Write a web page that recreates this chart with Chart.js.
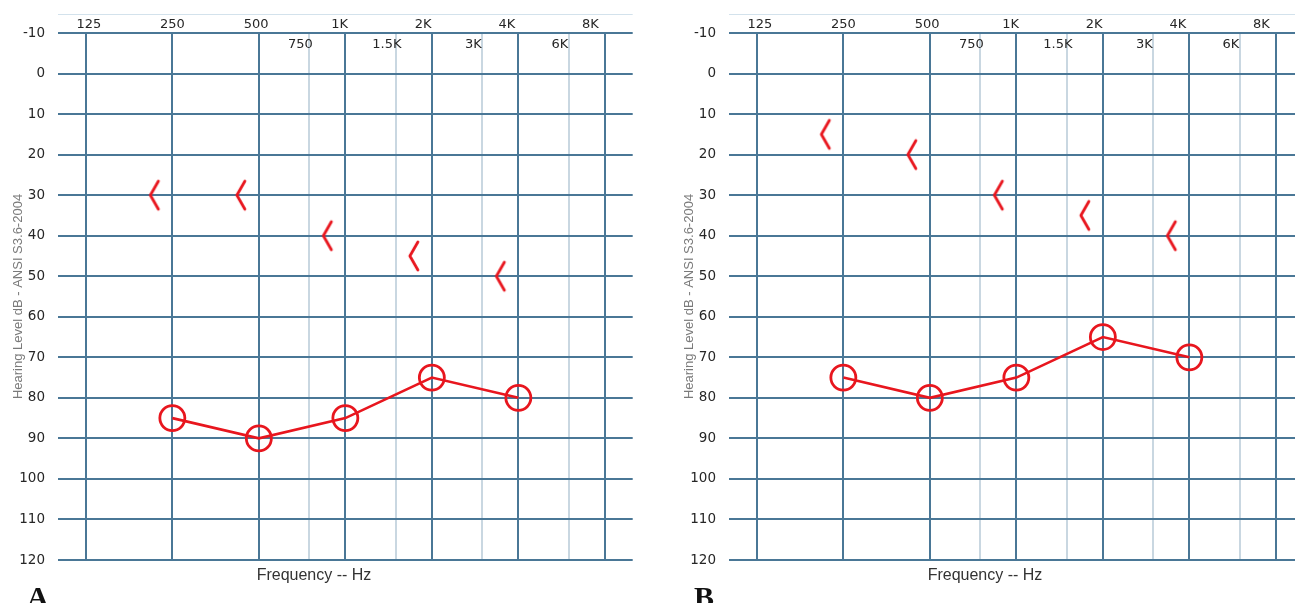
<!DOCTYPE html>
<html>
<head>
<meta charset="utf-8">
<script src="https://cdn.jsdelivr.net/npm/chart.js@4.4.1/dist/chart.umd.min.js"></script>
<style>
  html, body { margin: 0; padding: 0; background: #ffffff; overflow: hidden; width: 1295px; height: 603px; }
  .panel { position: absolute; top: 0; width: 648px; height: 603px; }
  .panel canvas { position: absolute; left: 0; top: 0; }
  .xtitle { position: absolute; top: 565px; width: 200px; margin-left: -100px; text-align: center;
            font: 16px "Liberation Sans", Arial, sans-serif; color: #333; line-height: 20px; white-space: nowrap; }
  .letter { position: absolute; top: 582px; font: bold 30px "Liberation Serif", "Times New Roman", serif;
            line-height: 30px; color: #111; }
</style>
</head>
<body>
<div class="panel" style="left:0px;">
  <canvas id="chartA" width="648" height="603"></canvas>
  <div class="xtitle" style="left:314px;">Frequency -- Hz</div>
  <div class="letter" style="left:27px;">A</div>
</div>
<div class="panel" style="left:671px;">
  <canvas id="chartB" width="648" height="603"></canvas>
  <div class="xtitle" style="left:314px;">Frequency -- Hz</div>
  <div class="letter" style="left:23px;">B</div>
</div>
<script>
// ---- data ----
const octaveFreqs  = [125, 250, 500, 1000, 2000, 4000, 8000];
const octaveLabels = ['125', '250', '500', '1K', '2K', '4K', '8K'];
const midFreqs     = [750, 1500, 3000, 6000];
const midLabels    = ['750', '1.5K', '3K', '6K'];
const testFreqs    = [250, 500, 1000, 2000, 4000];
const airA  = [85, 90, 85, 75, 80];
const boneA = [30, 30, 40, 45, 50];
const airB  = [75, 80, 75, 65, 70];
const boneB = [15, 20, 30, 35, 40];
const dbMin = -10, dbMax = 120, dbStep = 10;
const yTitle = 'Hearing Level dB - ANSI S3.6-2004';

// ---- styles ----
const RED = '#e8161e';
const DARK = '#4a7796';
const LIGHT = '#c9d7e1';
const TEXT = '#262626';
const tickFont = '13px "DejaVu Sans", Verdana, sans-serif';

// bone-conduction "<" symbol, drawn to the left of its frequency line
function makeBracket() {
  const c = document.createElement('canvas');
  c.width = 50; c.height = 34;
  const g = c.getContext('2d');
  g.strokeStyle = RED;
  g.lineWidth = 2.8;
  g.lineCap = 'round';
  g.lineJoin = 'round';
  g.beginPath();
  g.moveTo(25 - 14, 17 - 14);
  g.lineTo(25 - 22, 17);
  g.lineTo(25 - 14, 17 + 14);
  g.stroke();
  return c;
}
const bracket = makeBracket();

const allFreqs = octaveFreqs.concat(midFreqs).sort((a, b) => a - b);

const labelPlugin = {
  id: 'freqLabels',
  afterDraw(chart) {
    const { ctx, chartArea } = chart;
    const x = chart.scales.x;
    ctx.save();
    // light border line above the frequency labels
    ctx.strokeStyle = '#d3e2ec';
    ctx.lineWidth = 1;
    ctx.beginPath();
    ctx.moveTo(chartArea.left, 14.5);
    ctx.lineTo(chartArea.right, 14.5);
    ctx.stroke();
    ctx.font = tickFont;
    ctx.fillStyle = TEXT;
    ctx.textAlign = 'center';
    ctx.textBaseline = 'middle';
    octaveFreqs.forEach((f, i) => {
      ctx.fillText(octaveLabels[i], x.getPixelForValue(f) + 3 - 2.9 * i, 25);
    });
    midFreqs.forEach((f, i) => {
      ctx.fillText(midLabels[i], x.getPixelForValue(f) - 9, 45);
    });
    ctx.restore();
  }
};

function makeChart(id, air, bone) {
  return new Chart(document.getElementById(id), {
    type: 'line',
    data: {
      datasets: [
        {
          label: 'Air',
          data: testFreqs.map((f, i) => ({ x: f, y: air[i] })),
          borderColor: RED,
          borderWidth: 2.6,
          backgroundColor: 'rgba(0,0,0,0)',
          pointStyle: 'circle',
          pointRadius: 12.5,
          pointBorderWidth: 2.8,
          pointBorderColor: RED,
          pointBackgroundColor: 'rgba(0,0,0,0)',
          tension: 0,
          fill: false
        },
        {
          label: 'Bone',
          data: testFreqs.map((f, i) => ({ x: f, y: bone[i] })),
          showLine: false,
          pointStyle: bracket,
          pointRadius: 10
        }
      ]
    },
    options: {
      responsive: false,
      animation: false,
      events: [],
      layout: { padding: { left: 0, top: 0, right: 15, bottom: 43 } },
      plugins: { legend: { display: false }, tooltip: { enabled: false } },
      scales: {
        x: {
          type: 'logarithmic',
          position: 'top',
          min: 100,
          max: 10000,
          border: { display: false },
          grid: {
            drawTicks: false,
            lineWidth: 2,
            color: (ctx) => (ctx.tick && midFreqs.includes(ctx.tick.value)) ? LIGHT : DARK
          },
          ticks: { display: false, autoSkip: false },
          afterBuildTicks: (scale) => { scale.ticks = allFreqs.map(v => ({ value: v })); },
          afterFit: (scale) => { scale.height = 33; }
        },
        y: {
          type: 'linear',
          reverse: true,
          min: dbMin,
          max: dbMax,
          border: { display: false },
          grid: { drawTicks: false, lineWidth: 2, color: DARK },
          ticks: {
            stepSize: dbStep,
            padding: 13,
            color: TEXT,
            font: { family: '"DejaVu Sans", Verdana, sans-serif', size: 13.5 }
          },
          title: {
            display: true,
            text: yTitle,
            color: '#7a7a7a',
            font: { family: '"Liberation Sans", Arial, sans-serif', size: 13 },
            padding: { top: 11, bottom: 0 }
          },
          afterFit: (scale) => { scale.width = 58; }
        }
      }
    },
    plugins: [labelPlugin]
  });
}

makeChart('chartA', airA, boneA);
makeChart('chartB', airB, boneB);
</script>
</body>
</html>
